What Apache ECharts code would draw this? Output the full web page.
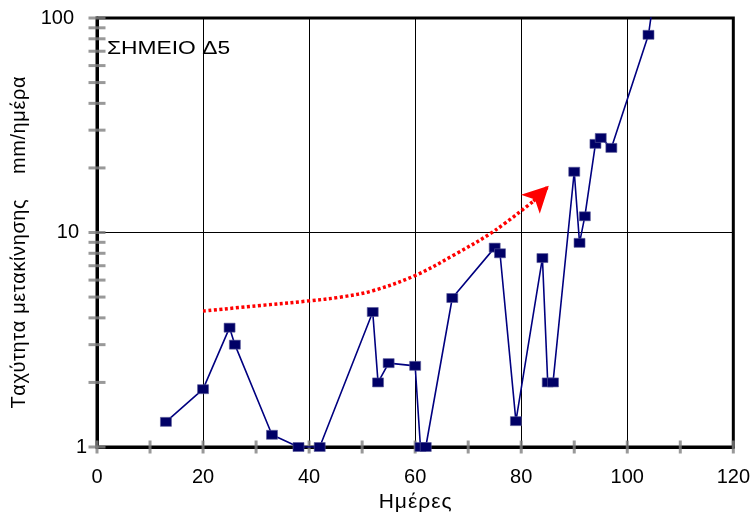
<!DOCTYPE html>
<html>
<head>
<meta charset="utf-8">
<script src="https://cdn.jsdelivr.net/npm/echarts@6/dist/echarts.min.js"></script>
<style>
  html, body { margin: 0; padding: 0; background: #fff; }
  #chart { width: 753px; height: 519px; }
</style>
</head>
<body>
<div id="chart"></div>
<script>
// Movement rate at point Δ5 (days vs mm/day, log scale)
const days  = [13, 20, 25, 26, 33, 38, 42, 52, 53, 55, 60, 61, 62, 67, 75, 76, 79, 84, 85, 86, 90, 91, 92, 94, 95, 97, 104, 105];
const rates = [1.31, 1.86, 3.6, 3.0, 1.14, 1.0, 1.0, 4.26, 2.0, 2.46, 2.39, 1.0, 1.0, 4.95, 8.5, 8.0, 1.32, 7.6, 2.0, 2.0, 19.2, 8.95, 11.9, 25.9, 27.6, 24.8, 83.5, 125];

// Trend sketch (dotted red curve with arrow)
const trendDays  = [20, 30, 40, 46, 52, 60, 67.5, 75, 82.3];
const trendRates = [4.3, 4.55, 4.8, 5.0, 5.35, 6.3, 7.9, 10.2, 14.0];
const arrowFrom = [82.3, 14.0];
const arrowTo   = [85.2, 16.5];

// Tick marks crossing the axes
const xTickValues = [0, 10, 20, 30, 40, 50, 60, 70, 80, 90, 100, 110, 120];
const yTickValues = [1, 2, 3, 4, 5, 6, 7, 8, 9, 10, 20, 30, 40, 50, 60, 70, 80, 90, 100];

const pointLabel = 'ΣΗΜΕΙΟ Δ5';
const xTitle = 'Ημέρες';
const yTitle = 'Ταχύτητα μετακίνησης    mm/ημέρα';

const FONT = '"Liberation Sans", Arial, sans-serif';

// wrap every character in a rich segment so the text gets a little letter spacing
function spaced(str) {
  return Array.from(str).map(c => '{s|' + c + '}').join('');
}

const chart = echarts.init(document.getElementById('chart'), null, { renderer: 'canvas' });

chart.setOption({
  animation: false,
  backgroundColor: '#ffffff',
  graphic: [
    {
      type: 'text',
      x: 107,
      y: 39,
      scaleX: 1.2,
      z: 10,
      style: {
        text: pointLabel,
        x: 0, y: 0,
        fontFamily: FONT,
        fontSize: 19,
        fill: '#000',
        verticalAlign: 'top',
        align: 'left'
      }
    }
  ],
  grid: {
    left: 97, right: 19, top: 18, bottom: 72,
    show: true,
    borderColor: '#000',
    borderWidth: 3,
    backgroundColor: 'transparent'
  },
  xAxis: {
    type: 'value',
    min: 0, max: 120, interval: 20,
    name: spaced(xTitle),
    nameLocation: 'middle',
    nameGap: 44,
    nameTextStyle: {
      fontFamily: FONT, fontSize: 21, color: '#000',
      rich: { s: { fontFamily: FONT, fontSize: 21, color: '#000', padding: [0, 0.5, 0, 0.5] } }
    },
    axisLine: { show: true, onZero: false, lineStyle: { color: '#000', width: 3 } },
    axisTick: { show: false },
    axisLabel: { fontFamily: FONT, fontSize: 20, color: '#000', margin: 20 },
    splitLine: { show: true, lineStyle: { color: '#000', width: 1 } }
  },
  yAxis: {
    type: 'log',
    logBase: 10,
    min: 1, max: 100,
    name: spaced(yTitle),
    nameLocation: 'middle',
    nameGap: 52,
    nameTextStyle: {
      fontFamily: FONT, fontSize: 20, color: '#000',
      padding: [0, 20, 0, 0],
      rich: { s: { fontFamily: FONT, fontSize: 20, color: '#000', padding: [0, 0.3, 0, 0.3] } }
    },
    axisLine: { show: true, lineStyle: { color: '#000', width: 3 } },
    axisTick: { show: false },
    axisLabel: {
      fontFamily: FONT, fontSize: 20, color: '#000', margin: 10,
      formatter: function (v) {
        if (v >= 100) return '{c|' + v + '}';
        if (v >= 10) return '{b|' + v + '}';
        return '{a|' + v + '}';
      },
      rich: {
        a: { fontFamily: FONT, fontSize: 20, color: '#000', padding: [0, 0, 0, 0] },
        b: { fontFamily: FONT, fontSize: 20, color: '#000', padding: [0, 8, 0, 0] },
        c: { fontFamily: FONT, fontSize: 20, color: '#000', padding: [0, 13, 0, 0] }
      }
    },
    splitLine: { show: true, lineStyle: { color: '#000', width: 1 } }
  },
  series: [
    {
      name: 'ticksX',
      type: 'scatter',
      clip: false,
      silent: true,
      symbol: 'rect',
      symbolSize: [3, 13],
      itemStyle: { color: '#808080' },
      z: 3,
      data: xTickValues.map(v => [v, 1])
    },
    {
      name: 'ticksY',
      type: 'scatter',
      clip: false,
      silent: true,
      symbol: 'rect',
      symbolSize: [17, 3],
      itemStyle: { color: '#808080' },
      z: 3,
      data: yTickValues.map(v => [0, v])
    },
    {
      name: 'trend',
      type: 'line',
      smooth: 0.35,
      showSymbol: false,
      symbol: 'none',
      silent: true,
      lineStyle: { color: '#ff0000', width: 3.5, type: [3, 2.5] },
      data: trendDays.map((d, i) => [d, trendRates[i]]),
      markLine: {
        silent: true,
        symbol: ['none', 'arrow'],
        symbolSize: [20, 26],
        label: { show: false },
        lineStyle: { color: '#ff0000', width: 3.5, type: [3, 2.5] },
        data: [[{ coord: arrowFrom }, { coord: arrowTo }]]
      },
      z: 4
    },
    {
      name: 'Δ5',
      type: 'line',
      clip: true,
      symbol: 'rect',
      symbolSize: [11, 9],
      itemStyle: { color: '#000066', borderColor: '#5a5a9a', borderWidth: 0.6 },
      lineStyle: { color: '#000080', width: 1.6 },
      data: days.map((d, i) => [d, rates[i]]),
      z: 5
    }
  ]
});
</script>
</body>
</html>
